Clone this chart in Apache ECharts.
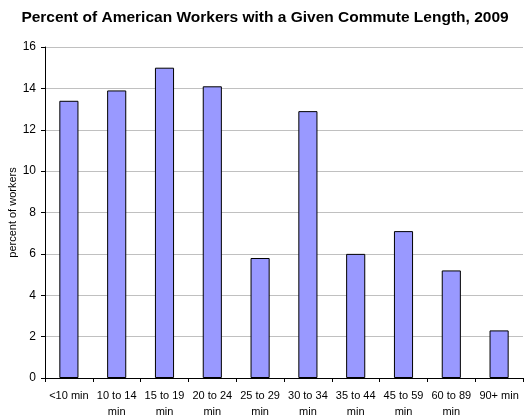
<!DOCTYPE html>
<html>
<head>
<meta charset="utf-8">
<script src="https://cdn.jsdelivr.net/npm/echarts@6/dist/echarts.min.js"></script>
<style>
  html, body { margin: 0; padding: 0; background: #fff; }
  #chart { width: 530px; height: 417px; }
</style>
</head>
<body>
<div id="chart"></div>
<script>
  // commute length buckets
  var categories = ['<10 min', '10 to 14\nmin', '15 to 19\nmin', '20 to 24\nmin', '25 to 29\nmin',
                    '30 to 34\nmin', '35 to 44\nmin', '45 to 59\nmin', '60 to 89\nmin', '90+ min'];
  // percent of workers
  var percents = [13.4, 13.9, 15.0, 14.1, 5.8, 12.9, 6.0, 7.1, 5.2, 2.3];
  var yTicks = [0, 2, 4, 6, 8, 10, 12, 14, 16];

  var font = 'Arial, "Liberation Sans", sans-serif';
  var myChart = echarts.init(document.getElementById('chart'));
  myChart.setOption({
    animation: false,
    title: {
      text: 'Percent of American Workers with a Given Commute Length, 2009',
      left: 'center',
      top: 5,
      textStyle: { fontFamily: font, fontSize: 15.5, fontWeight: 'bold', color: '#000' }
    },
    grid: { left: 45, right: 7, top: 47, bottom: 39, containLabel: false, outerBoundsMode: 'none' },
    xAxis: {
      type: 'category',
      data: categories,
      axisLine: { lineStyle: { color: '#000', width: 1 } },
      axisTick: { show: true, alignWithLabel: false, length: 4, lineStyle: { color: '#000' } },
      axisLabel: { fontFamily: font, fontSize: 11, color: '#000', interval: 0, margin: 10, lineHeight: 16 }
    },
    yAxis: {
      type: 'value',
      min: yTicks[0],
      max: yTicks[yTicks.length - 1],
      interval: 2,
      name: 'percent of workers',
      nameLocation: 'middle',
      nameGap: 27,
      nameMoveOverlap: false,
      nameTextStyle: { fontFamily: font, fontSize: 11, color: '#000' },
      axisLine: { show: true, lineStyle: { color: '#000', width: 1 } },
      axisTick: { show: true, length: 4, lineStyle: { color: '#000' } },
      axisLabel: { fontFamily: font, fontSize: 12, color: '#000', margin: 9 },
      splitLine: { lineStyle: { color: '#c0c0c0', width: 1 } }
    },
    series: [{
      type: 'bar',
      data: percents,
      barWidth: '40%',
      itemStyle: { color: '#9999ff', borderColor: '#000', borderWidth: 1 }
    }]
  });
</script>
</body>
</html>
